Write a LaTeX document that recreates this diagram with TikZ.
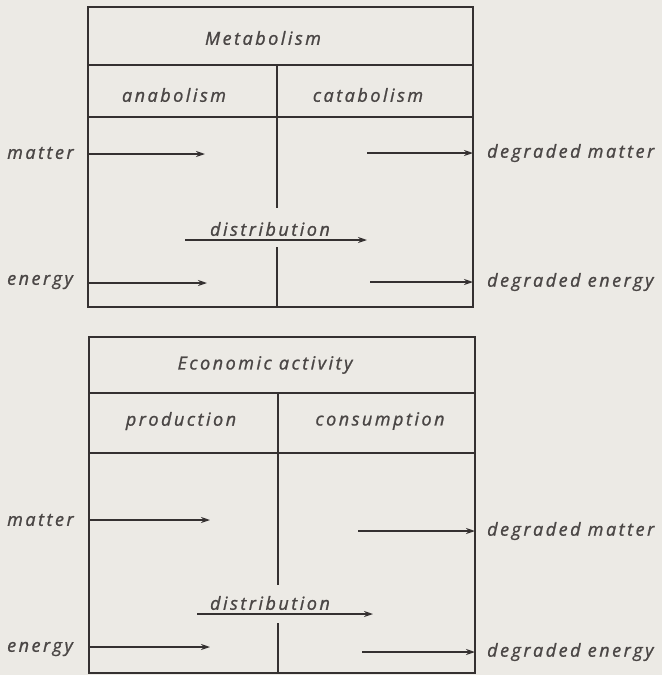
\documentclass[tikz,border=0pt]{standalone}
\usepackage{fontspec}
\usetikzlibrary{arrows.meta}
\newfontfamily\plotfont[LetterSpace=14,FakeBold=1.2]{Open Sans}
\definecolor{ink}{HTML}{353131}
\definecolor{mutedink}{HTML}{4A4645}
\definecolor{paper}{HTML}{ECEAE5}
\tikzset{
  frameline/.style={ink,line width=2.6pt},
  flow/.style={ink,line width=1.5pt,-{Stealth[length=9pt,width=6pt]}},
  lbl/.style={font=\plotfont\itshape\fontsize{18}{20}\selectfont,text=mutedink,inner sep=0pt}
}
\begin{document}
\begin{tikzpicture}[x=1pt,y=-1pt]
        \fill[paper] (0,0) rectangle (662,675);
        \useasboundingbox (0,0) rectangle (662,675);
        % Metabolism box
        \coordinate (metaNW) at (88,7);
        \coordinate (metaSE) at (473,307);
        \draw[frameline] (metaNW) rectangle (metaSE);
        \draw[frameline] (88,65) -- (473,65);
        \draw[frameline] (88,117) -- (473,117);
        \draw[frameline] (277,65) -- (277,208);
        \draw[frameline] (277,247) -- (277,307);
        \node[lbl] (metaTitle) at (263,38) {Metabolism};
        \node[lbl] (anab) at (174,95) {anabolism};
        \node[lbl] (catab) at (368,95) {catabolism};
        % flows through metabolism
        \node[lbl,anchor=west] (metaMatter) at (7,153) {matter};
        \node[lbl,anchor=west] (metaEnergy) at (7,282) {energy};
        \node[lbl,anchor=west] (metaDegM) at (487,153) {degraded matter};
        \node[lbl,anchor=west] (metaDegE) at (487,282) {degraded energy};
        \coordinate (mIn) at (88,154);   \coordinate (mEnd) at (205,154);
        \coordinate (eIn) at (88,283);   \coordinate (eEnd) at (207,283);
        \coordinate (dmOut) at (367,153); \coordinate (dmEnd) at (473,153);
        \coordinate (deOut) at (370,282); \coordinate (deEnd) at (473,282);
        \coordinate (distA) at (185,240); \coordinate (distB) at (367,240);
        \draw[flow] (mIn) -- (mEnd);
        \draw[flow] (eIn) -- (eEnd);
        \draw[flow] (dmOut) -- (dmEnd);
        \draw[flow] (deOut) -- (deEnd);
        \draw[flow] (distA) -- (distB);
        \node[lbl] (metaDist) at (270,229) {distribution};
        % Economic activity box
        \coordinate (ecoNW) at (89,337);
        \coordinate (ecoSE) at (475,673);
        \draw[frameline] (ecoNW) rectangle (ecoSE);
        \draw[frameline] (89,393) -- (475,393);
        \draw[frameline] (89,453) -- (475,453);
        \draw[frameline] (278,393) -- (278,585);
        \draw[frameline] (278,623) -- (278,673);
        \node[lbl] (ecoTitle) at (265,365) {Economic activity};
        \node[lbl] (prod) at (181,421) {production};
        \node[lbl] (cons) at (380,421) {consumption};
        % flows through the economy
        \node[lbl,anchor=west] (ecoMatter) at (7,520) {matter};
        \node[lbl,anchor=west] (ecoEnergy) at (7,649) {energy};
        \node[lbl,anchor=west] (ecoDegM) at (487,531) {degraded matter};
        \node[lbl,anchor=west] (ecoDegE) at (487,652) {degraded energy};
        \coordinate (m2In) at (89,520);   \coordinate (m2End) at (210,520);
        \coordinate (e2In) at (89,647);   \coordinate (e2End) at (210,647);
        \coordinate (dm2Out) at (358,531); \coordinate (dm2End) at (475,531);
        \coordinate (de2Out) at (362,652); \coordinate (de2End) at (475,652);
        \coordinate (dist2A) at (197,614); \coordinate (dist2B) at (373,614);
        \draw[flow] (m2In) -- (m2End);
        \draw[flow] (e2In) -- (e2End);
        \draw[flow] (dm2Out) -- (dm2End);
        \draw[flow] (de2Out) -- (de2End);
        \draw[flow] (dist2A) -- (dist2B);
        \node[lbl] (ecoDist) at (270,603) {distribution};
      \end{tikzpicture}
\end{document}
